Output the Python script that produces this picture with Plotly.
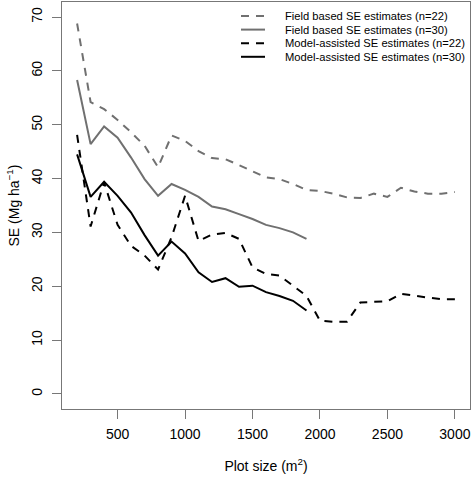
import plotly.graph_objects as go

plot_size_22 = list(range(200, 3001, 100))
plot_size_30 = list(range(200, 1901, 100))

field_n22 = [68.8, 54.2, 52.9, 50.9, 48.6, 46.1, 42.1, 48.0, 47.0, 45.1, 43.8, 43.6, 42.5,
             41.4, 40.2, 39.9, 39.0, 37.9, 37.7, 37.2, 36.5, 36.4, 37.2, 36.6, 38.3, 37.6,
             37.2, 37.2, 37.5]
field_n30 = [58.3, 46.4, 49.7, 47.6, 43.9, 39.9, 36.8, 39.0, 37.9, 36.6, 34.8, 34.3, 33.4,
             32.5, 31.4, 30.8, 30.0, 28.8]
model_n22 = [48.1, 31.1, 39.3, 31.4, 27.5, 25.7, 23.1, 29.1, 36.8, 28.4, 29.6, 29.9, 28.8,
             23.5, 22.3, 22.0, 20.1, 18.2, 13.6, 13.4, 13.4, 17.0, 17.1, 17.2, 18.6, 18.2,
             17.9, 17.6, 17.6]
model_n30 = [44.5, 36.6, 39.4, 36.8, 33.7, 29.5, 25.7, 28.3, 26.1, 22.6, 20.8, 21.5, 19.9,
             20.1, 18.9, 18.2, 17.3, 15.5]

labels = ["Field based SE estimates (n=22)", "Field based SE estimates (n=30)",
          "Model-assisted SE estimates (n=22)", "Model-assisted SE estimates (n=30)"]
x_ticks = [500, 1000, 1500, 2000, 2500, 3000]
y_ticks = [0, 10, 20, 30, 40, 50, 60, 70]

GRAY = "#707070"
DASH = "8px,7px"
styles = [(GRAY, DASH), (GRAY, "solid"), ("black", DASH), ("black", "solid")]
series = [(plot_size_22, field_n22), (plot_size_30, field_n30),
          (plot_size_22, model_n22), (plot_size_30, model_n30)]

fig = go.Figure()
for (xs, ys), (col, dash), name in zip(series, styles, labels):
    fig.add_trace(go.Scatter(x=xs, y=ys, mode="lines", name=name,
                             line=dict(color=col, width=2, dash=dash),
                             showlegend=False))

# Manual legend (R style, no box)
W, H = 472, 479
L, R, T, B = 62, 2, 2, 70
pw, ph = W - L - R, H - T - B
def px(x): return (x - L) / pw
def py(y): return (H - B - y) / ph
leg_y = [16, 29.6, 43.2, 56.8]
for (col, dash), name, yy in zip(styles, labels, leg_y):
    fig.add_shape(type="line", xref="paper", yref="paper",
                  x0=px(241), x1=px(265), y0=py(yy), y1=py(yy),
                  line=dict(color=col, width=2, dash=dash))
    fig.add_annotation(xref="paper", yref="paper", x=px(283), y=py(yy),
                       xanchor="left", yanchor="middle", showarrow=False,
                       text=name, font=dict(size=11.2, color="black"))

axis_common = dict(showline=True, mirror=True, linecolor="#777", linewidth=1.3,
                   ticks="outside", ticklen=9, tickcolor="#777", tickwidth=1.3,
                   showgrid=False, zeroline=False, tickfont=dict(size=14, color="black"))
fig.update_layout(
    width=W, height=H,
    margin=dict(l=L, r=R, t=T, b=B),
    paper_bgcolor="white", plot_bgcolor="white",
    font=dict(family="Liberation Sans", color="black"),
    xaxis=dict(range=[88, 3112], tickvals=x_ticks, ticklabelstandoff=3,
               title=dict(text="Plot size (m<sup>2</sup>)", font=dict(size=14), standoff=20),
               **axis_common),
    yaxis=dict(range=[-2.8, 72.8], tickvals=y_ticks, tickangle=-90, ticklabelstandoff=4,
               title=dict(text="SE (Mg ha<sup>−1</sup>)", font=dict(size=14), standoff=6),
               **axis_common),
)
fig.write_html("out.html", config={"displayModeBar": False},
               post_script="document.body.style.margin='0';document.body.style.overflow='hidden';")
